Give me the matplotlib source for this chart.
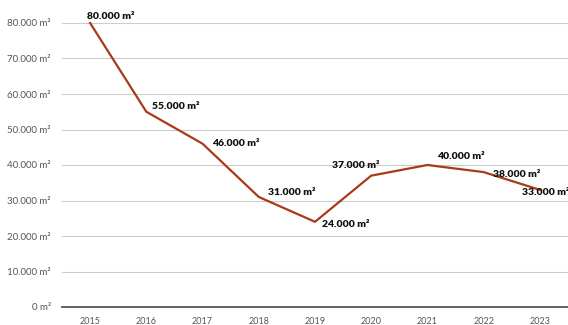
import matplotlib.pyplot as plt

years = ["2015", "2016", "2017", "2018", "2019", "2020", "2021", "2022", "2023"]
area = [80000, 55000, 46000, 31000, 24000, 37000, 40000, 38000, 33000]
y_ticks = [0, 10000, 20000, 30000, 40000, 50000, 60000, 70000, 80000]

# label offsets in points (dx, dy, ha)
label_offsets = [(-2, 5, 'left'), (4, 4, 'left'), (7, 0, 'left'), (7, 3, 'left'),
                 (5, -2, 'left'), (6, 7, 'right'), (7, 6, 'left'), (7, -2, 'left'),
                 (-13, -2, 'left')]


def fmt(v):
    return f"{v:,}".replace(",", ".") + " m²"


plt.rcParams['font.family'] = ['Lato', 'DejaVu Sans']

fig = plt.figure(figsize=(5.68, 3.25), dpi=100)
ax = fig.add_axes([62 / 568, 18 / 325, 506 / 568, 284 / 325])

x = list(range(len(years)))
ax.plot(x, area, color='#A83A18', linewidth=1.6, solid_joinstyle='miter', zorder=3,
        clip_on=False)

for i, v in enumerate(area):
    dx, dy, ha = label_offsets[i]
    ax.annotate(fmt(v), (i, v), xytext=(dx, dy), textcoords='offset points',
                ha=ha, va='center', fontsize=7.5, fontweight='heavy', color='#111111',
                zorder=4, annotation_clip=False)

ax.set_xlim(-0.5, 8.5)
ax.set_ylim(0, 80000)
ax.set_yticks(y_ticks)
ax.set_yticklabels([fmt(v) for v in y_ticks], color='#555555', fontsize=7)
ax.set_xticks(x)
ax.set_xticklabels(years, color='#555555', fontsize=6.5)
ax.tick_params(axis='both', length=0)
ax.tick_params(axis='y', pad=8)
ax.tick_params(axis='x', pad=7)

ax.grid(axis='y', color='#cccccc', linewidth=0.8, zorder=0)
ax.axhline(0, color='#555555', linewidth=1.3, zorder=2, clip_on=False)
for s in ax.spines.values():
    s.set_visible(False)

plt.savefig('out.png', dpi=100)
